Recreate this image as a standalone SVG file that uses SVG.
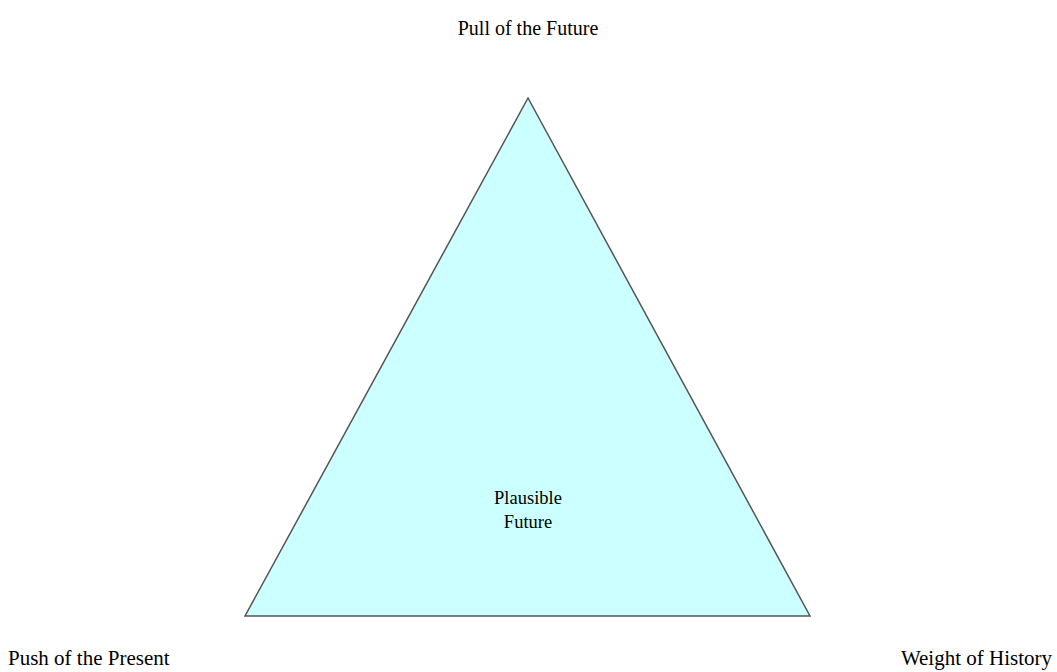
<svg xmlns="http://www.w3.org/2000/svg" width="1057" height="672" viewBox="0 0 1057 672">
<style>
.lbl{font-family:"Liberation Serif","Times New Roman",serif;font-size:20px;fill:#000}
.corner{font-family:"Liberation Serif","Times New Roman",serif;font-size:21px;fill:#000}
.inner{font-family:"Liberation Serif","Times New Roman",serif;font-size:18.5px;fill:#000}
</style>
<rect width="1057" height="672" fill="#fff"/>
<g id="triangle">
<polygon points="528,98 245,616 810,616" fill="#CCFFFF" stroke="#555" stroke-width="1.5"/>
<text class="inner" x="528" y="504" text-anchor="middle">Plausible</text>
<text class="inner" x="528" y="528" text-anchor="middle">Future</text>
</g>
<g id="pull"><text class="lbl" x="528" y="35" text-anchor="middle">Pull of the Future</text></g>
<g id="push"><text class="corner" x="8" y="665">Push of the Present</text></g>
<g id="weight"><text class="corner" x="1052" y="665" text-anchor="end">Weight of History</text></g>
<g id="connectors"></g>
</svg>
